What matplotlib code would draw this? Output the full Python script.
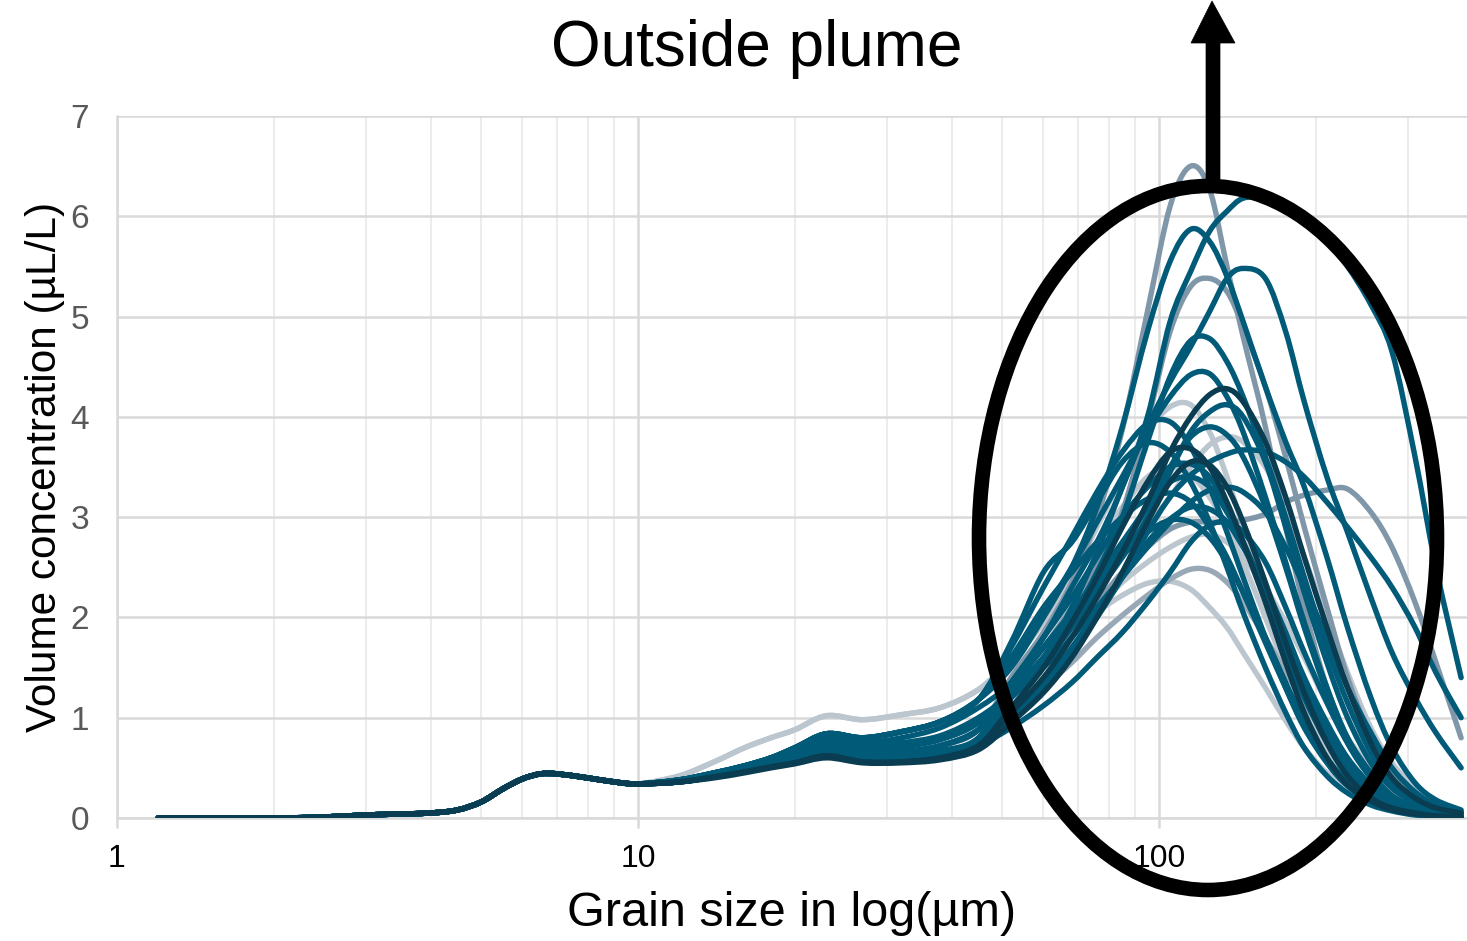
import matplotlib
matplotlib.use("Agg")
import numpy as np
import matplotlib.pyplot as plt
from matplotlib.patches import Ellipse, Polygon, PathPatch
from matplotlib.path import Path
from matplotlib.ticker import FixedLocator, NullFormatter

plt.rcParams["font.family"] = ["Liberation Sans", "DejaVu Sans"]

# grain size classes (µm)
GRAIN = [1.2, 1.5, 2.0, 2.5, 3.0, 3.5, 4.0, 4.5, 5.0, 5.5, 6.0, 6.5, 7.0, 8.0, 9.0, 10.0,
         12, 14, 16, 18, 20, 23, 27, 32, 38, 45, 52, 60, 68, 76, 85, 95,
         105, 115, 125, 135, 145, 160, 175, 190, 210, 230, 255, 280, 310, 340, 380]

# fine fraction, identical for all samples (1.2 - 10 µm)
FINE = [0.0, 0.0, 0.0, 0.01, 0.03, 0.04, 0.05, 0.08, 0.16, 0.29, 0.39, 0.44, 0.44, 0.40, 0.36, 0.34]

# volume concentration (µL/L) per sample, 12 - 380 µm
s_a = [0.37, 0.43, 0.49, 0.55, 0.60, 0.70, 0.65, 0.66, 0.72, 0.88, 1.40, 1.85, 2.35, 3.00, 3.87, 5.05,
       6.10, 6.50, 6.27, 5.50, 4.80, 3.90, 2.90, 2.10, 1.30, 0.80, 0.45, 0.25, 0.12, 0.06, 0.03]
s_b = [0.37, 0.43, 0.49, 0.55, 0.60, 0.70, 0.65, 0.66, 0.72, 0.88, 1.35, 1.80, 2.30, 2.75, 3.30, 4.00,
       4.95, 5.45, 5.85, 6.05, 6.18, 6.18, 6.08, 5.95, 5.75, 5.50, 5.12, 4.65, 3.60, 2.50, 1.40]
s_c = [0.38, 0.45, 0.52, 0.60, 0.70, 0.84, 0.80, 0.86, 0.96, 1.18, 1.50, 2.00, 2.50, 3.10, 3.90, 4.85,
       5.55, 5.87, 5.75, 5.40, 4.95, 4.30, 3.75, 3.30, 2.60, 1.90, 1.20, 0.70, 0.35, 0.18, 0.08]
s_d = [0.37, 0.43, 0.49, 0.55, 0.60, 0.70, 0.65, 0.66, 0.72, 0.88, 1.30, 1.70, 2.10, 2.50, 3.05, 3.95,
       4.85, 5.30, 5.38, 5.25, 4.90, 4.30, 3.60, 2.90, 2.10, 1.40, 0.80, 0.45, 0.22, 0.10, 0.05]
s_e = [0.36, 0.41, 0.46, 0.51, 0.55, 0.62, 0.56, 0.56, 0.60, 0.72, 1.20, 1.60, 2.10, 2.65, 3.30, 3.90,
       4.35, 4.70, 5.05, 5.38, 5.48, 5.38, 4.85, 4.15, 3.40, 2.85, 2.20, 1.65, 1.20, 0.85, 0.50]
s_f = [0.37, 0.44, 0.50, 0.57, 0.64, 0.76, 0.72, 0.75, 0.82, 1.00, 1.25, 1.60, 2.00, 2.45, 3.00, 3.75,
       4.40, 4.76, 4.78, 4.55, 4.20, 3.60, 3.00, 2.40, 1.70, 1.15, 0.65, 0.35, 0.18, 0.09, 0.04]
s_g = [0.38, 0.45, 0.52, 0.60, 0.70, 0.84, 0.80, 0.86, 0.96, 1.18, 1.55, 2.05, 2.50, 2.95, 3.40, 3.85,
       4.20, 4.42, 4.43, 4.20, 3.85, 3.20, 2.55, 1.95, 1.30, 0.80, 0.45, 0.22, 0.10, 0.05, 0.02]
s_h = [0.36, 0.41, 0.46, 0.51, 0.55, 0.62, 0.56, 0.56, 0.60, 0.72, 1.05, 1.40, 1.80, 2.20, 2.65, 3.15,
       3.65, 4.00, 4.22, 4.28, 4.15, 3.75, 3.20, 2.60, 1.90, 1.30, 0.75, 0.40, 0.20, 0.10, 0.05]
s_i = [0.37, 0.43, 0.50, 0.56, 0.63, 0.74, 0.70, 0.73, 0.80, 0.98, 1.20, 1.55, 1.90, 2.25, 2.60, 3.00,
       3.45, 3.85, 4.05, 4.12, 4.00, 3.55, 2.90, 2.25, 1.55, 1.00, 0.55, 0.30, 0.15, 0.07, 0.03]
s_j = [0.42, 0.56, 0.70, 0.80, 0.88, 1.02, 0.98, 1.03, 1.10, 1.28, 1.55, 1.95, 2.40, 2.90, 3.40, 3.85,
       4.10, 4.12, 3.85, 3.40, 2.90, 2.25, 1.65, 1.20, 0.75, 0.45, 0.25, 0.13, 0.07, 0.04, 0.02]
s_k = [0.37, 0.43, 0.49, 0.55, 0.60, 0.70, 0.65, 0.66, 0.72, 0.88, 1.30, 1.65, 2.00, 2.30, 2.60, 2.90,
       3.20, 3.50, 3.72, 3.80, 3.75, 3.50, 3.10, 2.60, 2.00, 1.45, 0.90, 0.55, 0.30, 0.15, 0.07]
s_l = [0.36, 0.41, 0.46, 0.51, 0.55, 0.62, 0.56, 0.56, 0.60, 0.72, 1.00, 1.30, 1.65, 2.00, 2.40, 2.85,
       3.20, 3.42, 3.55, 3.63, 3.67, 3.65, 3.55, 3.40, 3.15, 2.90, 2.60, 2.30, 1.90, 1.45, 1.00]
s_m = [0.37, 0.43, 0.49, 0.55, 0.60, 0.70, 0.65, 0.66, 0.72, 0.88, 1.25, 1.55, 1.85, 2.15, 2.45, 2.70,
       2.88, 2.95, 2.95, 2.95, 2.97, 3.03, 3.15, 3.22, 3.27, 3.28, 3.05, 2.70, 2.15, 1.55, 0.80]
s_n = [0.37, 0.43, 0.49, 0.55, 0.60, 0.70, 0.65, 0.66, 0.72, 0.88, 1.25, 1.55, 1.82, 2.05, 2.22, 2.34,
       2.36, 2.28, 2.10, 1.90, 1.65, 1.30, 0.97, 0.70, 0.45, 0.32, 0.20, 0.12, 0.07, 0.04, 0.02]
s_o = [0.36, 0.41, 0.46, 0.51, 0.55, 0.62, 0.56, 0.56, 0.60, 0.72, 1.05, 1.30, 1.55, 1.80, 2.02, 2.22,
       2.38, 2.48, 2.47, 2.35, 2.15, 1.80, 1.45, 1.15, 0.80, 0.55, 0.33, 0.20, 0.10, 0.05, 0.02]
s_p = [0.37, 0.43, 0.49, 0.55, 0.60, 0.70, 0.65, 0.66, 0.72, 0.88, 1.30, 1.60, 1.85, 2.10, 2.35, 2.55,
       2.70, 2.80, 2.83, 2.75, 2.60, 2.30, 1.95, 1.60, 1.15, 0.80, 0.50, 0.30, 0.16, 0.08, 0.04]
s_q = [0.36, 0.41, 0.46, 0.51, 0.55, 0.62, 0.56, 0.56, 0.60, 0.72, 1.10, 1.50, 1.95, 2.40, 2.90, 3.35,
       3.65, 3.68, 3.50, 3.15, 2.75, 2.15, 1.55, 1.05, 0.60, 0.33, 0.17, 0.08, 0.04, 0.02, 0.01]
s_r = [0.38, 0.45, 0.52, 0.60, 0.70, 0.84, 0.80, 0.86, 0.96, 1.18, 1.70, 2.30, 2.80, 3.25, 3.65, 3.93,
       3.95, 3.70, 3.30, 2.85, 2.40, 1.80, 1.30, 0.90, 0.55, 0.32, 0.17, 0.09, 0.04, 0.02, 0.01]
s_s = [0.38, 0.44, 0.51, 0.58, 0.66, 0.79, 0.75, 0.80, 0.90, 1.10, 1.35, 1.80, 2.20, 2.60, 3.00, 3.30,
       3.50, 3.53, 3.40, 3.10, 2.75, 2.20, 1.65, 1.20, 0.75, 0.45, 0.24, 0.12, 0.06, 0.03, 0.01]
s_t = [0.36, 0.42, 0.48, 0.53, 0.58, 0.66, 0.61, 0.62, 0.67, 0.80, 1.30, 1.70, 2.05, 2.40, 2.75, 3.10,
       3.35, 3.40, 3.30, 3.05, 2.75, 2.25, 1.75, 1.30, 0.85, 0.52, 0.28, 0.15, 0.07, 0.03, 0.01]
s_u = [0.38, 0.45, 0.52, 0.60, 0.70, 0.84, 0.80, 0.86, 0.96, 1.18, 1.60, 2.10, 2.45, 2.75, 3.00, 3.18,
       3.24, 3.15, 2.90, 2.60, 2.25, 1.75, 1.30, 0.92, 0.57, 0.34, 0.18, 0.09, 0.04, 0.02, 0.01]
s_v = [0.36, 0.41, 0.46, 0.51, 0.55, 0.62, 0.56, 0.56, 0.60, 0.72, 1.00, 1.35, 1.70, 2.05, 2.40, 2.75,
       2.98, 3.10, 3.08, 2.95, 2.70, 2.30, 1.85, 1.40, 0.95, 0.60, 0.33, 0.17, 0.08, 0.04, 0.02]
s_w = [0.37, 0.44, 0.50, 0.56, 0.62, 0.73, 0.69, 0.71, 0.78, 0.95, 1.30, 1.70, 2.05, 2.35, 2.62, 2.85,
       2.97, 2.95, 2.80, 2.55, 2.25, 1.80, 1.35, 0.97, 0.60, 0.36, 0.19, 0.10, 0.05, 0.02, 0.01]
s_x = [0.36, 0.40, 0.45, 0.50, 0.54, 0.60, 0.55, 0.55, 0.58, 0.68, 0.95, 1.25, 1.60, 2.00, 2.45, 2.95,
       3.35, 3.55, 3.52, 3.30, 2.95, 2.35, 1.75, 1.25, 0.75, 0.42, 0.20, 0.10, 0.05, 0.02, 0.01]
s_y = [0.38, 0.45, 0.52, 0.60, 0.70, 0.84, 0.80, 0.86, 0.96, 1.18, 1.75, 2.45, 2.75, 3.15, 3.55, 3.74,
       3.65, 3.35, 2.95, 2.50, 2.05, 1.50, 1.05, 0.70, 0.42, 0.25, 0.13, 0.07, 0.03, 0.02, 0.01]
s_z = [0.36, 0.41, 0.46, 0.51, 0.55, 0.62, 0.56, 0.56, 0.60, 0.72, 0.90, 1.12, 1.35, 1.60, 1.85, 2.15,
       2.45, 2.75, 2.92, 2.95, 2.85, 2.55, 2.10, 1.65, 1.15, 0.75, 0.42, 0.22, 0.11, 0.05, 0.02]
s_ab = [0.37, 0.43, 0.49, 0.55, 0.60, 0.70, 0.65, 0.66, 0.72, 0.88, 1.20, 1.50, 1.80, 2.10, 2.40, 2.70,
        2.95, 3.15, 3.27, 3.30, 3.25, 3.05, 2.70, 2.30, 1.80, 1.30, 0.85, 0.50, 0.26, 0.13, 0.06]
s_ac = [0.42, 0.56, 0.70, 0.80, 0.88, 1.02, 0.98, 1.03, 1.10, 1.28, 1.60, 2.00, 2.40, 2.75, 3.10, 3.40,
        3.50, 3.42, 3.20, 2.90, 2.55, 2.00, 1.50, 1.10, 0.70, 0.43, 0.24, 0.13, 0.07, 0.04, 0.02]
s_ad = [0.36, 0.42, 0.47, 0.52, 0.57, 0.64, 0.59, 0.60, 0.64, 0.78, 1.25, 1.60, 1.95, 2.30, 2.70, 3.10,
        3.50, 3.80, 3.90, 3.82, 3.60, 3.10, 2.50, 1.90, 1.25, 0.75, 0.40, 0.20, 0.10, 0.05, 0.02]

TEAL = "#005a78"
DARK = "#0a3d52"
GREY = "#7f97a9"
LIGHT = "#bcc6cf"

# drawing order: pale samples first, dark samples on top
samples = [
    (s_j, LIGHT), (s_ac, LIGHT), (s_k, LIGHT), (s_n, LIGHT), (s_p, LIGHT),
    (s_o, "#98a8b7"), (s_m, GREY), (s_d, GREY), (s_a, GREY),
    (s_y, TEAL), (s_r, TEAL), (s_u, TEAL), (s_s, TEAL), (s_t, TEAL), (s_w, TEAL),
    (s_v, TEAL), (s_z, TEAL), (s_ab, TEAL), (s_ad, TEAL), (s_l, TEAL), (s_i, TEAL),
    (s_g, TEAL), (s_f, TEAL), (s_e, TEAL), (s_c, TEAL), (s_b, TEAL),
    (s_x, DARK), (s_q, DARK), (s_h, DARK),
]


def smooth_path(xs, ys):
    # smoothed line (Catmull-Rom as cubic Bezier) in log-x space
    pts = np.column_stack([np.log10(xs), ys])
    ext = np.vstack([pts[0], pts, pts[-1]])
    verts, codes = [pts[0]], [Path.MOVETO]
    for i in range(len(pts) - 1):
        p0, p1, p2, p3 = ext[i], ext[i + 1], ext[i + 2], ext[i + 3]
        verts += [p1 + (p2 - p0) / 6, p2 - (p3 - p1) / 6, p2]
        codes += [Path.CURVE4] * 3
    verts = np.array(verts)
    verts[:, 0] = 10 ** verts[:, 0]
    return Path(verts, codes)


W, H = 1467, 941
fig = plt.figure(figsize=(W / 100, H / 100), dpi=100)
ax = fig.add_axes([117 / W, 1 - 818 / H, 1 - 117 / W, (818 - 116) / H])
ax.set_xscale("log")

for vals, col in samples:
    ax.add_patch(PathPatch(smooth_path(GRAIN, FINE + vals), fill=False, ec=col, lw=3.9,
                           capstyle="round", joinstyle="round", zorder=3))

ax.set_xlim(1, 390)
ax.set_ylim(0, 7)
ax.set_yticks(range(0, 8))
ax.xaxis.set_major_locator(FixedLocator([1, 10, 100]))
ax.xaxis.set_minor_locator(FixedLocator([m * d for d in (1, 10, 100) for m in range(2, 10)]))
ax.xaxis.set_minor_formatter(NullFormatter())
ax.set_xticklabels(["1", "10", "100"])

ax.grid(True, which="major", color="#d9d9d9", lw=1.8, zorder=0)
ax.grid(True, which="minor", axis="x", color="#ececec", lw=1.5, zorder=0)
for side in ("top", "right"):
    ax.spines[side].set_visible(False)
for side in ("left", "bottom"):
    ax.spines[side].set_color("#d9d9d9")
    ax.spines[side].set_linewidth(1.8)

ax.tick_params(axis="y", length=0, labelsize=24, labelcolor="#595959", pad=20)
ax.tick_params(axis="x", which="major", length=7, width=1.8, color="#d9d9d9",
               labelsize=23, labelcolor="black", pad=12)
ax.tick_params(axis="x", which="minor", length=0)

ax.set_xlabel("Grain size in log(µm)", fontsize=35, labelpad=12)
ax.set_ylabel("Volume concentration (µL/L)", fontsize=30.5, labelpad=4)
fig.text(757 / W, 1 - 49 / H, "Outside plume", fontsize=46, ha="center", va="center")

# ring around the coarse peak and arrow pointing up
ring = Ellipse((1208 / W, 1 - 538 / H), 458 / W, 704 / H, fill=False,
               ec="black", lw=10.5, transform=fig.transFigure, zorder=10)
fig.add_artist(ring)


def px(x, y):
    return (x / W, 1 - y / H)


arrow = Polygon([px(1206, 190), px(1206, 43), px(1191, 43), px(1212, 1),
                 px(1235, 43), px(1220, 43), px(1220, 190)],
                closed=True, fc="black", ec="black", lw=0.5,
                transform=fig.transFigure, zorder=10)
fig.add_artist(arrow)

fig.savefig("out.png", dpi=100)
